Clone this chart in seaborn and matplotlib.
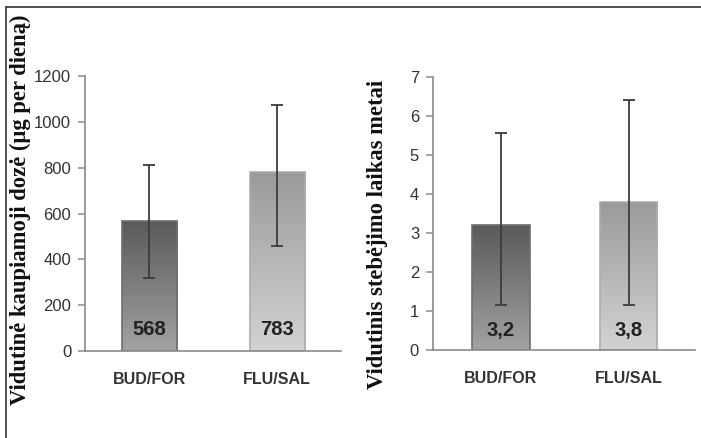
import numpy as np
import pandas as pd
import matplotlib
matplotlib.use("Agg")
import matplotlib.pyplot as plt
import matplotlib.transforms as mtransforms
from matplotlib.colors import LinearSegmentedColormap
from matplotlib.lines import Line2D
import seaborn as sns

# data
groups = ["BUD/FOR", "FLU/SAL"]
dose = [568, 783]
dose_low = [320, 460]
dose_high = [812, 1073]
dose_labels = ["568", "783"]
years = [3.2, 3.8]
years_low = [1.15, 1.15]
years_high = [5.55, 6.4]
years_labels = ["3,2", "3,8"]

sns.set_style("white")
plt.rcParams["font.family"] = ["Liberation Sans", "DejaVu Sans"]

# bar gradient colours (top -> bottom)
tops = ["#5a5a5a", "#9a9a9a"]
bottoms = ["#a2a2a2", "#d3d3d3"]
edges = ["#6e6e6e", "#adadad"]
axis_col = "#8a8a8a"


def draw_panel(ax, vals, low, high, labels, width, ylim, yticks, xlim, label_y):
    df = pd.DataFrame({"grp": groups, "val": vals})
    sns.barplot(data=df, x="grp", y="val", ax=ax, width=width, color="white",
                errorbar=None, zorder=2)
    grad = np.linspace(0, 1, 256).reshape(-1, 1)
    for i, p in enumerate(ax.patches):
        cmap = LinearSegmentedColormap.from_list("g%d" % i, [bottoms[i], tops[i]])
        x0, w, h = p.get_x(), p.get_width(), p.get_height()
        im = ax.imshow(grad, cmap=cmap, extent=[x0, x0 + w, 0, h], origin="lower",
                       aspect="auto", zorder=1)
        im.set_clip_path(p)
        p.set_facecolor("none")
        p.set_edgecolor(edges[i])
        p.set_linewidth(1.2)

    v = np.array(vals)
    yerr = [v - np.array(low), np.array(high) - v]
    ax.errorbar(range(len(groups)), vals, yerr=yerr, fmt="none", ecolor="#3c3c3c",
                elinewidth=1.3, capsize=4, capthick=1.3, zorder=3)

    trans = mtransforms.blended_transform_factory(ax.transData, ax.transAxes)
    for i, t in enumerate(labels):
        ax.text(i, label_y, t, transform=trans, ha="center", va="center",
                fontsize=14.5, fontweight="bold", color="#222222", zorder=4)

    ax.set_xlim(*xlim)
    ax.set_ylim(*ylim)
    ax.set_yticks(yticks)
    ax.set_xlabel("")
    ax.set_ylabel("")
    sns.despine(ax=ax)
    for s in ["left", "bottom"]:
        ax.spines[s].set_color(axis_col)
        ax.spines[s].set_linewidth(1.2)
    ax.tick_params(axis="y", direction="out", length=5, width=1.1, color=axis_col,
                   labelsize=12, labelcolor="#333333", pad=5, left=True)
    ax.tick_params(axis="x", length=0, pad=15, labelsize=11.5, labelcolor="#333333")
    for lab in ax.get_xticklabels():
        lab.set_fontweight("bold")


fig = plt.figure(figsize=(7.01, 4.38), dpi=100)
ax1 = fig.add_axes([0.1213, 0.1986, 0.3652, 0.6279])
ax2 = fig.add_axes([0.6177, 0.2009, 0.3738, 0.624])

draw_panel(ax1, dose, dose_low, dose_high, dose_labels, 0.43, (0, 1200),
           range(0, 1201, 200), (-0.5, 1.5), 0.08)
draw_panel(ax2, years, years_low, years_high, years_labels, 0.45, (0, 7),
           range(0, 8), (-0.53, 1.52), 0.073)

# y titles
fig.text(20 / 701, 0.5205, "Vidutinė kaupiamoji dozė (µg per dieną)", rotation=90,
         ha="center", va="center", family=["Liberation Serif", "DejaVu Serif"],
         fontweight="bold", fontsize=16.3, color="#111111")
fig.text(378 / 701, 0.4658, "Vidutinis stebėjimo laikas metai", rotation=90,
         ha="center", va="center", family=["Liberation Serif", "DejaVu Serif"],
         fontweight="bold", fontsize=16.3, color="#111111")

# frame lines (left and top)
fig.add_artist(Line2D([6 / 701, 6 / 701], [0, 1 - 7 / 438], transform=fig.transFigure,
                      color="#333333", lw=1.2))
fig.add_artist(Line2D([6 / 701, 1], [1 - 7 / 438, 1 - 7 / 438], transform=fig.transFigure,
                      color="#333333", lw=1.2))

fig.savefig("out.png", dpi=100)
